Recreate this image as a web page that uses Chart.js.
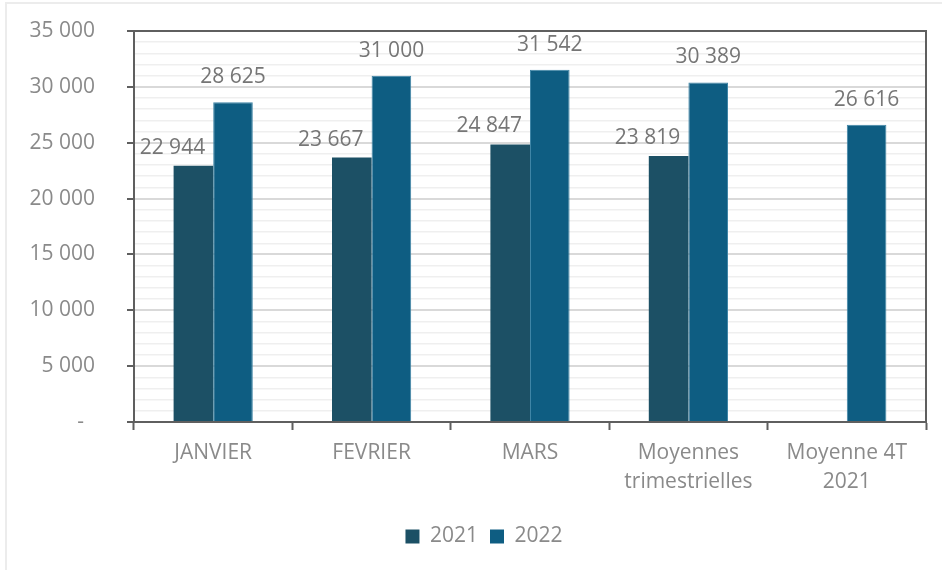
<!DOCTYPE html>
<html>
<head>
<meta charset="utf-8">
<script src="https://cdn.jsdelivr.net/npm/chart.js@4"></script>
<style>
  html, body { margin: 0; padding: 0; background: #fff; }
  #wrap { position: absolute; left: 0; top: 0; width: 942px; height: 570px; }
  #frame { position: absolute; left: 5px; top: 2px; width: 950px; height: 600px;
           border-left: 2px solid #ececec; border-top: 2px solid #ececec; }
</style>
</head>
<body>
<div id="wrap">
  <div id="frame"></div>
  <canvas id="myChart" width="942" height="570"></canvas>
</div>
<script>
const categories = ['JANVIER', 'FEVRIER', 'MARS', ['Moyennes', 'trimestrielles'], ['Moyenne 4T', '2021']]
const values2021 = [22944, 23667, 24847, 23819, null]
const values2022 = [28625, 31000, 31542, 30389, 26616]
const seriesNames = ['2021', '2022']
const yMax = 35000
const yMajorStep = 5000
const yMinorStep = 1000

const FONT = '"Open Sans", "Noto Sans", sans-serif'
const TXT = 21

function fmt(v){
    if(v === 0) return '-  '
    return v.toString().replace(/\B(?=(\d{3})+(?!\d))/g, ' ')
}

// cadre sombre autour de la zone du graphique
const frameBox = {
    id: 'frameBox',
    afterDraw(chart){
        const a = chart.chartArea
        const ctx = chart.ctx
        ctx.save()
        ctx.strokeStyle = '#5f5f5f'
        ctx.lineWidth = 2
        ctx.strokeRect(a.left, a.top, a.right - a.left, a.bottom - a.top)
        ctx.restore()
    }
}

// légende un peu décalée vers la droite, comme dans Excel
const legendShift = {
    id: 'legendShift',
    afterLayout(chart){
        if(!chart.legend) return
        chart.legend.left += 42
        chart.legend.right += 0
    }
}

// étiquettes de valeurs au-dessus des barres
const valueLabels = {
    id: 'valueLabels',
    afterDatasetsDraw(chart){
        const ctx = chart.ctx
        ctx.save()
        ctx.font = TXT + 'px ' + FONT
        ctx.fillStyle = '#767676'
        ctx.textAlign = 'center'
        ctx.textBaseline = 'middle'
        chart.data.datasets.forEach((ds, i) => {
            const meta = chart.getDatasetMeta(i)
            meta.data.forEach((bar, j) => {
                const v = ds.data[j]
                if(v === null || v === undefined) return
                const dx = i === 0 ? -21 : 0
                const dy = i === 0 ? -18 : -25
                ctx.fillText(fmt(v), bar.x + dx, bar.y + dy)
            })
        })
        ctx.restore()
    }
}

const ctx = document.getElementById('myChart')
const myChart = new Chart(ctx, {
    type: 'bar',
    data: {
        labels: categories,
        datasets: [{
            label: seriesNames[0],
            data: values2021,
            backgroundColor: '#1c5065',
            borderColor: '#1c5065',
            borderWidth: 0,
            categoryPercentage: 0.5,
            barPercentage: 1.0
        }, {
            label: seriesNames[1],
            data: values2022,
            backgroundColor: '#0e5d82',
            borderColor: '#3f85a6',
            borderWidth: { left: 1, right: 1, top: 1, bottom: 0 },
            categoryPercentage: 0.5,
            barPercentage: 1.0
        }]
    },
    options: {
        responsive: false,
        animation: false,
        layout: { padding: { left: 0, right: 16, top: 31, bottom: 13 } },
        plugins: {
            tooltip: { enabled: false },
            legend: {
                position: 'bottom',
                labels: {
                    boxWidth: 14,
                    boxHeight: 14,
                    padding: 12,
                    color: '#8a8a8a',
                    font: { family: FONT, size: TXT },
                    generateLabels(chart){
                        return chart.data.datasets.map((ds, i) => ({
                            text: ds.label,
                            fillStyle: ds.backgroundColor,
                            strokeStyle: ds.backgroundColor,
                            lineWidth: 0,
                            fontColor: '#8a8a8a',
                            datasetIndex: i
                        }))
                    }
                }
            }
        },
        scales: {
            x: {
                grid: {
                    display: true,
                    drawOnChartArea: false,
                    drawTicks: true,
                    tickLength: 8,
                    tickColor: '#5f5f5f',
                    tickWidth: 2
                },
                border: { display: true, color: '#5f5f5f', width: 2 },
                ticks: {
                    color: '#8a8a8a',
                    padding: 9,
                    maxRotation: 0,
                    autoSkip: false,
                    font: { family: FONT, size: TXT, lineHeight: 1.35 }
                },
                afterFit(scale){
                    scale.height = 92
                    scale.paddingLeft = 0
                    scale.paddingRight = 0
                }
            },
            y: {
                min: 0,
                max: yMax,
                grid: {
                    color: c => (c.tick && c.tick.value % yMajorStep === 0) ? '#d9d9d9' : '#efefef',
                    lineWidth: c => (c.tick && c.tick.value % yMajorStep === 0) ? 2 : 1.5,
                    tickLength: 7,
                    tickColor: c => (c.tick && c.tick.value % yMajorStep === 0) ? '#5f5f5f' : 'rgba(0,0,0,0)',
                    tickWidth: 2
                },
                border: { display: true, color: '#5f5f5f', width: 2 },
                ticks: {
                    stepSize: yMinorStep,
                    autoSkip: false,
                    color: '#8a8a8a',
                    padding: 32,
                    font: { family: FONT, size: TXT },
                    callback: v => (v % yMajorStep === 0) ? fmt(v) : ''
                },
                afterFit(scale){
                    scale.width = 134
                    scale.paddingTop = 0
                    scale.paddingBottom = 0
                }
            }
        }
    },
    plugins: [frameBox, legendShift, valueLabels]
});
</script>
</body>
</html>
